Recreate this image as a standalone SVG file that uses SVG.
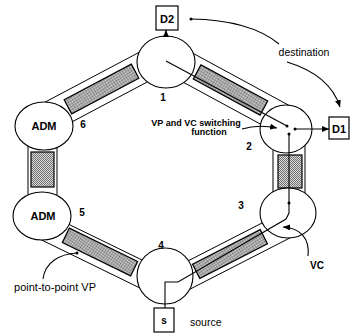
<svg xmlns="http://www.w3.org/2000/svg" width="353" height="335" viewBox="0 0 353 335">
<style>
.band{fill:#fff;stroke:#000;stroke-width:1}
.gray{fill:url(#dots);stroke:#000;stroke-width:1.2}
.node{fill:#fff;stroke:#000;stroke-width:1.1}
.box{fill:#fff;stroke:#000;stroke-width:1.2}
.ln{fill:none;stroke:#000;stroke-width:1.1}
.t{font-family:"Liberation Sans",Arial,sans-serif;fill:#000}
.b{font-weight:bold}
</style>
<defs>
<pattern id="dots" width="2" height="2" patternUnits="userSpaceOnUse">
<rect width="2" height="2" fill="#dcdcdc"/>
<rect width="1" height="1" fill="#707070"/>
<rect x="1" y="1" width="1" height="1" fill="#707070"/>
</pattern>
<marker id="ah" markerWidth="7" markerHeight="6" refX="7" refY="3" orient="auto" markerUnits="userSpaceOnUse">
<path d="M0,0 L7,3 L0,6 z" fill="#000"/>
</marker>
</defs>

<g id="links">
<polygon class="band" points="143.5,50 41,104.3 68.2,123.9 150.4,80.3"/>
<rect class="gray" x="-38" y="-8" width="76" height="16" transform="translate(101.5,89) rotate(-27.9)"/>
<polygon class="band" points="189.9,51.6 292.7,107.4 266,127.1 179.9,80.4"/>
<rect class="gray" x="-38" y="-8" width="76" height="16" transform="translate(230.5,90) rotate(28.5)"/>
<polygon class="band" points="65.2,222.6 145.3,261.6 142.8,289.4 38.6,238.5"/>
<rect class="gray" x="-38" y="-8" width="76" height="16" transform="translate(100,252) rotate(26)"/>
<polygon class="band" points="186.7,261.6 264.2,221.9 292.9,236.4 187,290.7"/>
<rect class="gray" x="-38" y="-8" width="76" height="16" transform="translate(230,254) rotate(-27.1)"/>
<rect class="band" x="273" y="140" width="32" height="58"/>
<rect class="gray" x="278" y="155" width="24" height="33"/>
<rect class="band" x="28" y="140" width="29" height="62"/>
<rect class="gray" x="31" y="152" width="23" height="35"/>
</g>

<g id="node1"><ellipse class="node" cx="166" cy="62" rx="29" ry="26"/><text class="t b" x="163" y="101" font-size="10" text-anchor="middle">1</text></g>
<g id="node2"><ellipse class="node" cx="286" cy="129" rx="26" ry="24"/><text class="t b" x="249" y="150" font-size="10" text-anchor="middle">2</text></g>
<g id="node3"><ellipse class="node" cx="288" cy="213" rx="28" ry="25"/><text class="t b" x="241" y="209" font-size="10" text-anchor="middle">3</text></g>
<g id="node4"><ellipse class="node" cx="165" cy="276" rx="28" ry="28"/><text class="t b" x="161" y="249" font-size="10" text-anchor="middle">4</text></g>
<g id="node5"><ellipse class="node" cx="42" cy="216" rx="29" ry="24"/><text class="t b" x="43" y="220" font-size="11" text-anchor="middle">ADM</text><text class="t b" x="82" y="216" font-size="10" text-anchor="middle">5</text></g>
<g id="node6"><ellipse class="node" cx="44" cy="126" rx="29" ry="24"/><text class="t b" x="44" y="130" font-size="11" text-anchor="middle">ADM</text><text class="t b" x="83" y="128" font-size="10" text-anchor="middle">6</text></g>
<g id="D2"><rect class="box" x="156" y="6" width="22" height="24"/><text class="t b" x="167" y="22.5" font-size="11" text-anchor="middle">D2</text></g>
<g id="D1"><rect class="box" x="329" y="117" width="20" height="22"/><text class="t b" x="339" y="132.5" font-size="11" text-anchor="middle">D1</text></g>
<g id="S"><rect class="box" x="154" y="308" width="20" height="24"/><text class="t b" x="164" y="323.5" font-size="10" text-anchor="middle">s</text></g>

<g id="connectors">
<path class="ln" d="M166,37 V30" marker-end="url(#ah)"/>
<path class="ln" d="M166,61 L287,126"/>
<circle cx="287" cy="126" r="1.5"/>
<path class="ln" d="M295,129 H329" marker-end="url(#ah)"/>
<circle cx="295" cy="129" r="1.5"/>
<path class="ln" d="M165,308 V282 H178 L286,219 L289,213 V133"/>
<circle cx="289" cy="134" r="1.5"/>
<circle cx="289" cy="203" r="1.5"/>
<path class="ln" d="M191,19 Q250,20 279,44"/>
<circle cx="191" cy="19" r="1.5"/>
<path class="ln" d="M287,62 Q330,75 340,107" marker-end="url(#ah)"/>
<path class="ln" d="M242,129 Q258,124 277,128" marker-end="url(#ah)"/>
<path class="ln" d="M308,256 C310,238 300,228 283,227" marker-end="url(#ah)"/>
<path class="ln" d="M43,279 C45,262 60,254 77,253"/>
<circle cx="77" cy="253" r="1.5"/>
</g>

<g id="labels">
<text class="t" x="304" y="56" font-size="10.5" text-anchor="middle">destination</text>
<text class="t b" x="196" y="126" font-size="9" text-anchor="middle">VP and VC switching</text>
<text class="t b" x="209" y="135" font-size="9" text-anchor="middle">function</text>
<text class="t b" x="317" y="269" font-size="10" text-anchor="middle">VC</text>
<text class="t" x="55" y="291" font-size="11" text-anchor="middle">point-to-point VP</text>
<text class="t" x="190" y="326" font-size="10.5">source</text>
</g>
</svg>
